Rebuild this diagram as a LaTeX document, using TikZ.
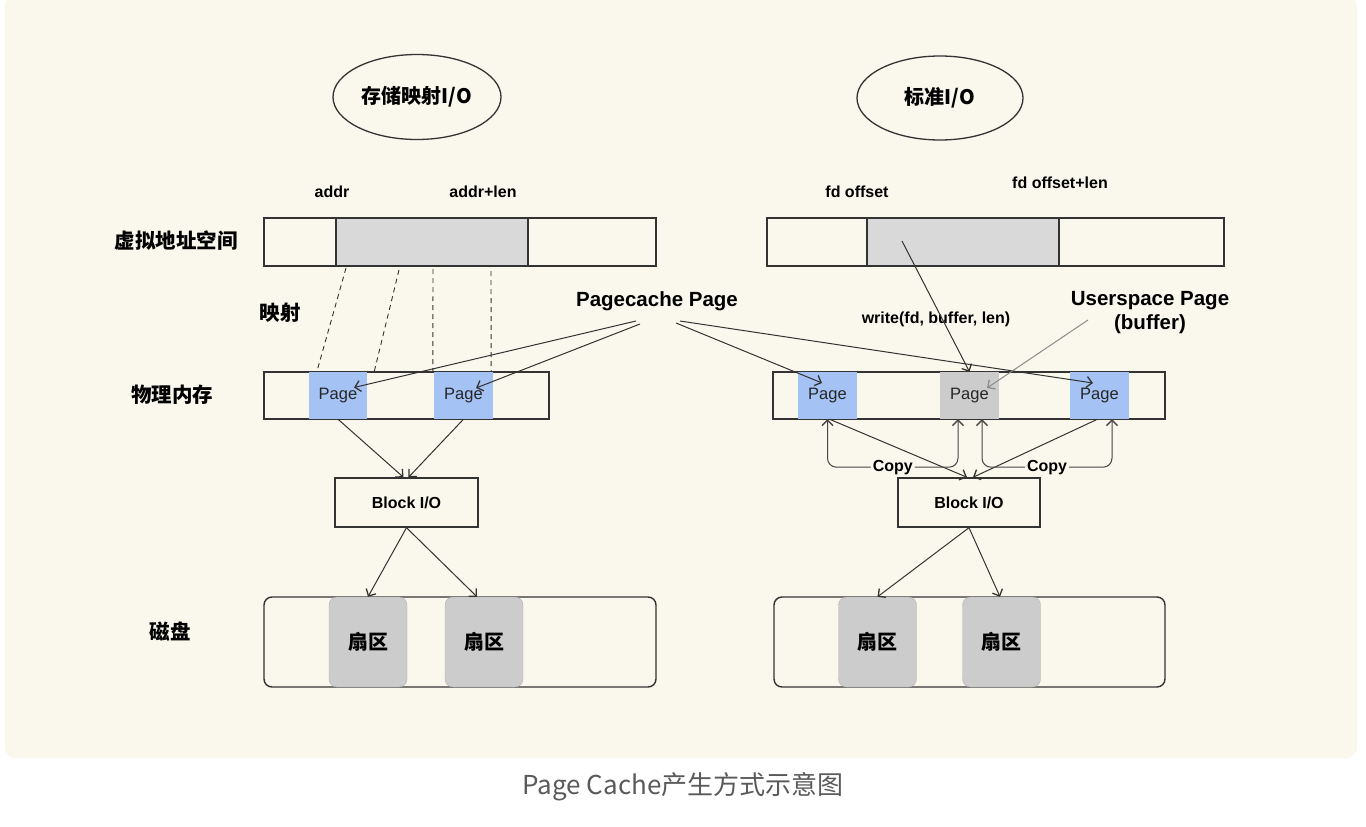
\documentclass[tikz,border=0pt]{standalone}
\usepackage{fontspec}
\setmainfont{Liberation Sans}
\newfontfamily\cjk{Noto Sans CJK SC}
\usetikzlibrary{shapes.geometric, arrows.meta}
\definecolor{PanelCream}{HTML}{FAF8EC}
\definecolor{LineDark}{HTML}{333333}
\definecolor{PageBlue}{HTML}{A4C2F4}
\definecolor{SelGray}{HTML}{D9D9D9}
\definecolor{PageGray}{HTML}{CCCCCC}
\definecolor{CaptionGray}{HTML}{5A5A5A}

\begin{document}
\begin{tikzpicture}[x=1pt, y=-1pt, font=\fontsize{16}{19}\selectfont,
    ell/.style={draw=LineDark, ellipse, line width=1.3pt, minimum width=168pt, minimum height=85pt, font=\cjk\bfseries\fontsize{20}{24}\selectfont},
    rowlbl/.style={font=\cjk\bfseries\fontsize{20.5}{24}\selectfont},
    bar/.style={draw=LineDark, line width=1.4pt, minimum height=48pt, inner sep=0pt},
    sel/.style={bar, fill=SelGray, minimum width=192pt},
    pg/.style={fill=PageBlue, minimum width=59pt, minimum height=47pt, inner sep=0pt, text=black!85, font=\fontsize{16.5}{19}\selectfont},
    blk/.style={draw=LineDark, line width=1.4pt, minimum width=143pt, minimum height=49pt, font=\bfseries\fontsize{16}{19}\selectfont},
    disk/.style={draw=LineDark, line width=1.4pt, rounded corners=8pt, minimum height=90pt, minimum width=392pt},
    sec/.style={draw=black!30, fill=PageGray, rounded corners=8pt, minimum width=78pt, minimum height=90pt, font=\cjk\bfseries\fontsize{20}{24}\selectfont},
    tag/.style={font=\bfseries\fontsize{16}{19}\selectfont},
    bigtag/.style={font=\bfseries\fontsize{20.5}{24}\selectfont, align=center},
    arr/.style={draw=LineDark, line width=1pt, -{Straight Barb[length=5.5pt, width=11pt, line width=1.3pt]}},
    map/.style={draw=LineDark, line width=0.9pt, dash pattern=on 5pt off 4pt},
    copy/.style={draw=LineDark!90, line width=1pt, rounded corners=9pt, {Straight Barb[length=5.5pt, width=11pt, line width=1.3pt]}-{Straight Barb[length=5.5pt, width=11pt, line width=1.3pt]}}]

\useasboundingbox (0,0) rectangle (1366,827);
\fill[PanelCream, rounded corners=10pt] (5,-4) rectangle (1357,758);

% titles
\node[ell] (mmap) at (417,97) {存储映射I/O};
\node[ell, minimum width=166pt, minimum height=84pt] (stdio) at (940,98) {标准I/O};

% row labels
\node[rowlbl] (vlbl) at (176,241) {虚拟地址空间};
\node[rowlbl] (maplbl) at (280,313) {映射};
\node[rowlbl] (plbl) at (172,395) {物理内存};
\node[rowlbl] (dlbl) at (170,631) {磁盘};

\node[tag] (addr) at (332,192) {addr};
\node[tag] (addrlen) at (483,192) {addr+len};
\node[tag] (fdoff) at (857,192) {fd offset};
\node[tag] (fdofflen) at (1060,183) {fd offset+len};

% virtual address space
\node[bar, minimum width=392pt] (vbarL) at (460,242) {};
\node[sel] (vselL) at (432,242) {};
\node[bar, minimum width=457pt] (vbarR) at (995.5,242) {};
\node[sel] (vselR) at (963,242) {};

% physical memory
\node[bar, minimum width=285pt, minimum height=47pt] (physL) at (406.5,395.5) {};
\node[pg, minimum width=58pt] (pL1) at (338,395.5) {Page};
\node[pg] (pL2) at (463.5,395.5) {Page};
\node[bar, minimum width=392pt, minimum height=47pt] (physR) at (969,395.5) {};
\node[pg] (pR1) at (827.5,395.5) {Page};
\node[pg, fill=PageGray] (pR2) at (969.5,395.5) {Page};
\node[pg] (pR3) at (1099.5,395.5) {Page};

% block layer
\node[blk] (blkL) at (406.5,502.5) {Block I/O};
\node[blk, minimum width=142pt] (blkR) at (969,502.5) {Block I/O};

% disks
\node[disk] (diskL) at (460,642) {};
\node[sec] (sL1) at (368,642) {扇区};
\node[sec] (sL2) at (484,642) {扇区};
\node[disk, minimum width=391pt] (diskR) at (969.5,642) {};
\node[sec] (sR1) at (877.5,642) {扇区};
\node[sec] (sR2) at (1001.5,642) {扇区};

% mapping lines
\coordinate (mapA) at (346,268);
\coordinate (mapB) at (399,270);
\coordinate (mapC) at (433,269);
\coordinate (mapD) at (491,271);
\draw[map] (mapA) -- ([xshift=8pt]pL1.north west);
\draw[map] (mapB) -- ([xshift=7pt]pL1.north east);
\draw[map] (mapC) -- ([xshift=-1pt]pL2.north west);
\draw[map] (mapD) -- ([xshift=-2pt]pL2.north east);

% page cache pointers
\node[bigtag] (pc) at (657,301) {Pagecache Page};
\coordinate (pcA) at (636,321);
\coordinate (pcB) at (640,324);
\coordinate (pcC) at (676,323);
\coordinate (pcD) at (680,321);
\draw[arr] (pcA) -- ([shift={(16,-8)}]pL1.center);
\draw[arr] (pcB) -- ([shift={(12.5,-7.5)}]pL2.center);
\draw[arr] (pcC) -- ([shift={(-5.5,-12.5)}]pR1.center);
\draw[arr] (pcD) -- ([shift={(-6.5,-12.5)}]pR3.center);

% write path
\node[tag] (wr) at (936,319) {write(fd, buffer, len)};
\coordinate (wrA) at (902,241);
\draw[arr] (wrA) -- (pR2.north);
\node[bigtag] (us) at (1150,313) {Userspace Page\\(buffer)};
\coordinate (usA) at (1088,320);
\draw[arr, draw=black!45] (usA) -- ([shift={(17.5,-7.5)}]pR2.center);

% page to block
\draw[arr] (pL1.south) -- ([xshift=-3pt]blkL.north);
\draw[arr] (pL2.south) -- ([xshift=2pt]blkL.north);
\draw[arr] ([xshift=2pt]pR1.south) -- ([xshift=-2pt]blkR.north);
\draw[arr] ([xshift=-2pt]pR3.south) -- ([xshift=4pt]blkR.north);

% copies
\draw[copy] (pR1.south) -- ++(0,48) -- node[tag, fill=PanelCream, inner sep=2pt] (cpyL) {Copy} ++(130.5,0) -- ([xshift=-11.5pt]pR2.south);
\draw[copy] ([xshift=12.5pt]pR2.south) -- ++(0,48) -- node[tag, fill=PanelCream, inner sep=2pt] (cpyR) {Copy} ++(130,0) -- ([xshift=12.5pt]pR3.south);

% block to disk
\draw[arr] (blkL.south) -- (sL1.north);
\draw[arr] (blkL.south) -- ([xshift=-7pt]sL2.north);
\draw[arr] (blkR.south) -- (sR1.north);
\draw[arr] (blkR.south) -- ([xshift=-1.5pt]sR2.north);

\node[font=\cjk\fontsize{26}{31}\selectfont, text=CaptionGray] (cap) at (683,787) {Page Cache产生方式示意图};
\end{tikzpicture}
\end{document}
